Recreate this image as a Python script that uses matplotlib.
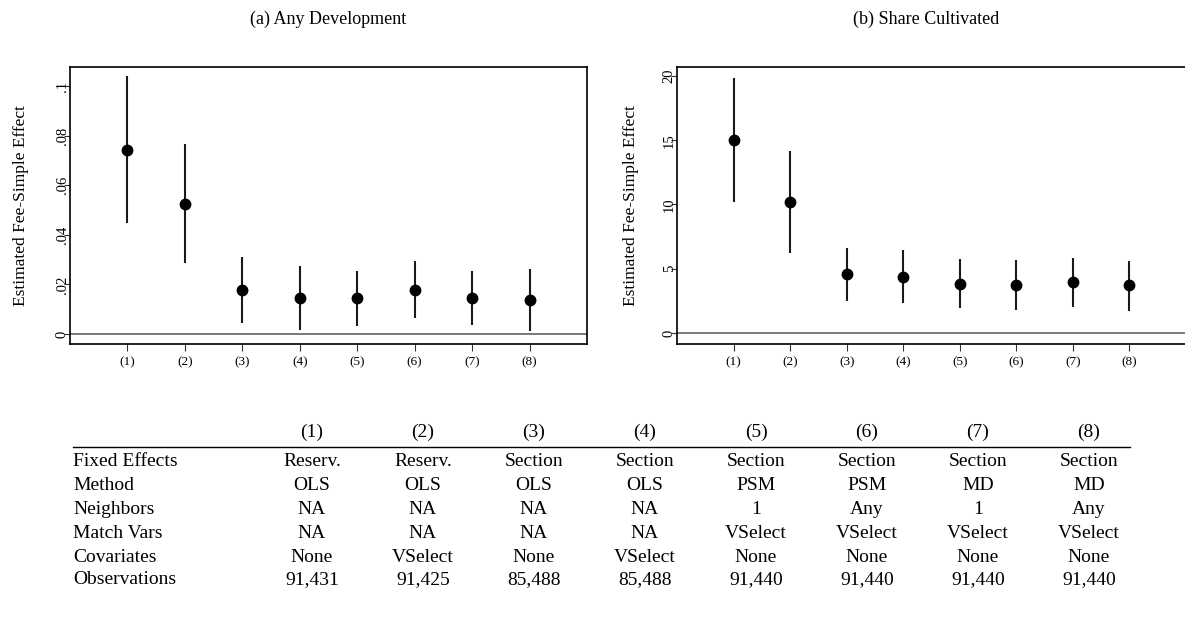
import numpy as np
import matplotlib
matplotlib.use("Agg")
import matplotlib.pyplot as plt
from matplotlib.ticker import FuncFormatter

# --- data ---
specs = ["(1)", "(2)", "(3)", "(4)", "(5)", "(6)", "(7)", "(8)"]

dev_est = [0.0743, 0.0524, 0.0177, 0.0144, 0.0144, 0.0177, 0.0147, 0.0138]
dev_lo = [0.0449, 0.0285, 0.0043, 0.0016, 0.0034, 0.0065, 0.0038, 0.0013]
dev_hi = [0.1040, 0.0765, 0.0312, 0.0274, 0.0255, 0.0293, 0.0255, 0.0263]

cult_est = [15.01, 10.18, 4.55, 4.37, 3.82, 3.75, 3.93, 3.70]
cult_lo = [10.18, 6.23, 2.45, 2.33, 1.94, 1.81, 2.04, 1.73]
cult_hi = [19.82, 14.19, 6.64, 6.43, 5.76, 5.66, 5.81, 5.63]

row_labels = ["Fixed Effects", "Method", "Neighbors", "Match Vars", "Covariates", "Observations"]
fixed_effects = ["Reserv.", "Reserv.", "Section", "Section", "Section", "Section", "Section", "Section"]
method = ["OLS", "OLS", "OLS", "OLS", "PSM", "PSM", "MD", "MD"]
neighbors = ["NA", "NA", "NA", "NA", "1", "Any", "1", "Any"]
match_vars = ["NA", "NA", "NA", "NA", "VSelect", "VSelect", "VSelect", "VSelect"]
covariates = ["None", "VSelect", "None", "VSelect", "None", "None", "None", "None"]
observations = ["91,431", "91,425", "85,488", "85,488", "91,440", "91,440", "91,440", "91,440"]

W, H = 1185, 627
fig = plt.figure(figsize=(W / 100, H / 100), dpi=100)
plt.rcParams['font.family'] = ['Liberation Serif', 'DejaVu Serif']


def px_axes(x0, y0, x1, y1):
    # pixel box (top-left origin) -> figure fraction axes
    return fig.add_axes([x0 / W, 1 - y1 / H, (x1 - x0) / W, (y1 - y0) / H])


def nolead(v, pos):
    if abs(v) < 1e-12:
        return "0"
    s = ("%g" % v)
    return s.replace("0.", ".") if s.startswith("0.") else s


def draw_panel(ax, est, lo, hi, ylim, yticks, fmt, ylab_x):
    x = np.arange(1, len(est) + 1)
    ax.axhline(0, color="#555555", lw=1.1, zorder=1)
    ax.vlines(x, lo, hi, color="#1a1a1a", lw=1.5, zorder=2)
    ax.plot(x, est, "o", color="black", ms=7.5, zorder=3)
    ax.set_xlim(0, 9)
    ax.set_ylim(*ylim)
    ax.set_xticks(x)
    ax.set_xticklabels(specs, fontsize=9.5)
    ax.set_yticks(yticks)
    ax.yaxis.set_major_formatter(FuncFormatter(fmt))
    for lab in ax.get_yticklabels():
        lab.set_rotation(90)
        lab.set_va("center")
        lab.set_fontsize(10.5)
    ax.tick_params(axis="x", direction="out", length=5, width=0.8, color="#333333", pad=4)
    ax.tick_params(axis="y", direction="out", length=4, width=0.8, color="#333333", pad=-3)
    ax.set_ylabel("Estimated Fee-Simple Effect", fontsize=12.5)
    ax.yaxis.set_label_coords(ylab_x, 0.5)
    for sp in ax.spines.values():
        sp.set_linewidth(1.2)
        sp.set_color("black")


ax1 = px_axes(70, 67, 587, 344)
draw_panel(ax1, dev_est, dev_lo, dev_hi, (-0.004, 0.1077),
           [0, 0.02, 0.04, 0.06, 0.08, 0.1], nolead, -0.080)

ax2 = px_axes(677, 67, 1186, 344)
draw_panel(ax2, cult_est, cult_lo, cult_hi, (-0.86, 20.7),
           [0, 5, 10, 15, 20], lambda v, p: "%d" % v, -0.075)

fig.text(328 / W, 1 - 19 / H, "(a) Any Development", ha="center", va="center",
         fontsize=13)
fig.text(926 / W, 1 - 19 / H, "(b) Share Cultivated", ha="center", va="center",
         fontsize=13)

# --- table below the plots ---
tfs = 14
col_x = [312 + 111 * i for i in range(8)]
label_x = 73
for cx, s in zip(col_x, specs):
    fig.text(cx / W, 1 - 432 / H, s, ha="center", va="center", fontsize=tfs)
fig.add_artist(plt.Line2D([73 / W, 1130 / W], [1 - 447 / H, 1 - 447 / H],
                          color="black", lw=1.0))

rows = [fixed_effects, method, neighbors, match_vars, covariates, observations]
row_y = [462, 486, 509, 533, 557, 580]
for lab, vals, ry in zip(row_labels, rows, row_y):
    fig.text(label_x / W, 1 - ry / H, lab, ha="left", va="center", fontsize=tfs)
    for cx, v in zip(col_x, vals):
        fig.text(cx / W, 1 - ry / H, v, ha="center", va="center", fontsize=tfs)

fig.savefig("out.png", dpi=100)
